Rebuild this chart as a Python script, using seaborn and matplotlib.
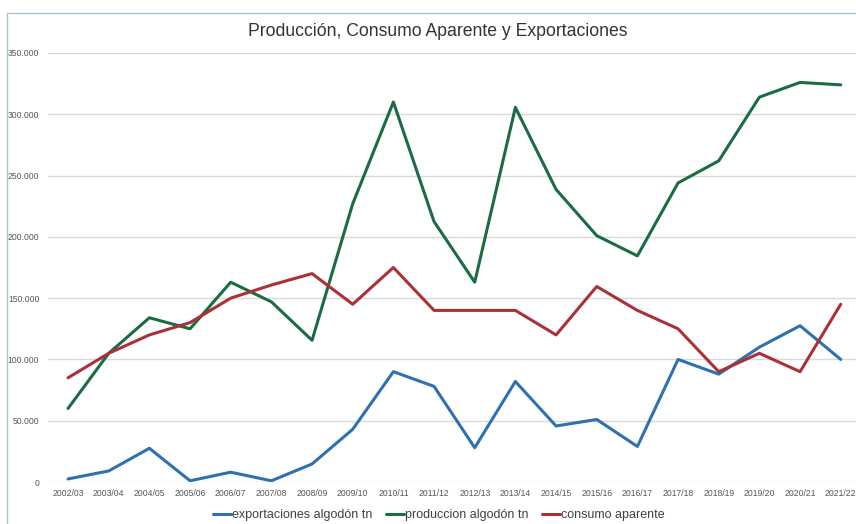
import pandas as pd
import matplotlib.pyplot as plt
import matplotlib.ticker as mticker
from matplotlib.patches import Rectangle
import seaborn as sns

campanas = ["2002/03", "2003/04", "2004/05", "2005/06", "2006/07", "2007/08",
            "2008/09", "2009/10", "2010/11", "2011/12", "2012/13", "2013/14",
            "2014/15", "2015/16", "2016/17", "2017/18", "2018/19", "2019/20",
            "2020/21", "2021/22"]
exportaciones = [2500, 9000, 27500, 1000, 8000, 1000, 14700, 43000, 90000, 78000,
                 28000, 82000, 45700, 51000, 29000, 100000, 88000, 110000, 127500, 100000]
produccion = [60000, 105000, 134000, 125000, 163000, 147000, 115600, 227000, 310000, 212500,
              163000, 305600, 238700, 201000, 184500, 244000, 262000, 314000, 326000, 324000]
consumo = [85000, 105000, 120000, 130000, 150000, 160700, 170000, 145000, 175000, 140000,
           140000, 140000, 120000, 159500, 140000, 125000, 90000, 105000, 90000, 145000]

series = ["exportaciones algodón tn", "produccion algodón tn", "consumo aparente"]
colores = ["#2e70b0", "#1b6b43", "#ab3038"]

df = pd.DataFrame({"campana": campanas,
                   series[0]: exportaciones,
                   series[1]: produccion,
                   series[2]: consumo})
largo = df.melt(id_vars="campana", var_name="serie", value_name="tn")

sns.set_style("white")
plt.rcParams["font.family"] = ["Liberation Sans", "DejaVu Sans"]

fig = plt.figure(figsize=(8.56, 5.24), dpi=100)
ax = fig.add_axes([47.7 / 856, 42 / 524, 1 - 47.7 / 856, 429 / 524])

sns.lineplot(data=largo, x="campana", y="tn", hue="serie", hue_order=series,
             palette=colores, linewidth=2.2, sort=False, ax=ax)

ax.set_xlim(-0.5, (856 - 68) / 40.67)
ax.set_ylim(0, 350000)
ax.yaxis.set_major_locator(mticker.MultipleLocator(50000))
ax.yaxis.set_major_formatter(
    mticker.FuncFormatter(lambda v, p: f"{int(v):,}".replace(",", ".")))
ax.grid(axis="y", color="#d9d9d9", linewidth=1)
ax.set_axisbelow(True)
for s in ax.spines.values():
    s.set_visible(False)
ax.tick_params(axis="both", length=0, labelsize=6.2, labelcolor="#555555")
ax.tick_params(axis="y", pad=6)
ax.tick_params(axis="x", pad=5)
ax.set_xlabel("")
ax.set_ylabel("")

ax.legend(loc="center", bbox_to_anchor=(439 / 856, 9 / 524),
          bbox_transform=fig.transFigure, ncol=3, frameon=False,
          fontsize=9, handlelength=1.4, handletextpad=0.1, columnspacing=1.1,
          labelcolor="#404040")

fig.text(438 / 856, 1 - 31 / 524, "Producción, Consumo Aparente y Exportaciones",
         ha="center", va="center", fontsize=12.7, color="#333333")

fig.patches.append(Rectangle((7.5 / 856, -0.1), 2, (524 - 12.5) / 524 + 0.1,
                             transform=fig.transFigure, fill=False,
                             edgecolor="#a9c4d0", linewidth=1))

fig.savefig("out.png", dpi=100)
